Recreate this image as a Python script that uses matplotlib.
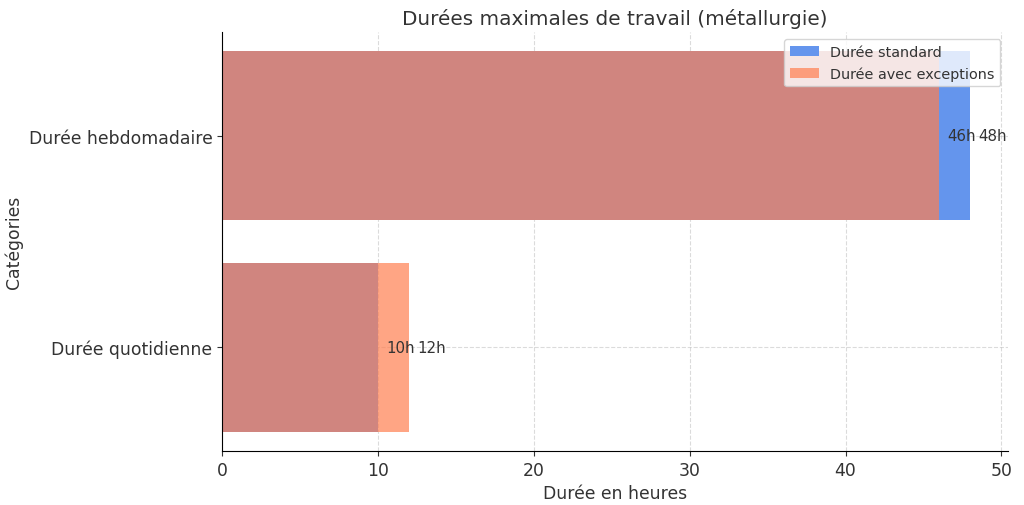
import matplotlib
matplotlib.use("Agg")
import numpy as np
import matplotlib.pyplot as plt

categories = ["Durée quotidienne", "Durée hebdomadaire"]
standard = [10, 48]
exceptions = [12, 46]
series_labels = ["Durée standard", "Durée avec exceptions"]

plt.rcParams['text.color'] = '#333333'
plt.rcParams['axes.labelcolor'] = '#333333'
plt.rcParams['xtick.color'] = '#333333'
plt.rcParams['ytick.color'] = '#333333'

fig = plt.figure(figsize=(10.24, 5.06), dpi=100)
ax = fig.add_axes([0.217, 0.107, 0.767, 0.828])

y = np.arange(len(categories))
bars_std = ax.barh(y, standard, height=0.8, color='cornflowerblue',
                   label=series_labels[0])
bars_exc = ax.barh(y, exceptions, height=0.8, color='coral', alpha=0.7,
                   label=series_labels[1])

for bars in (bars_std, bars_exc):
    for bar in bars:
        w = bar.get_width()
        ax.text(w + 0.5, bar.get_y() + bar.get_height() / 2, f"{w}h",
                va='center', ha='left', fontsize=10.8)

ax.set_yticks(y)
ax.set_yticklabels(categories, fontsize=12.4)
ax.tick_params(axis='x', labelsize=12.4)
ax.set_xlabel("Durée en heures", fontsize=12.4)
ax.set_ylabel("Catégories", fontsize=12.4)
ax.set_title("Durées maximales de travail (métallurgie)", fontsize=14.4)
ax.grid(True, linestyle='--', alpha=0.45, linewidth=0.8)
ax.set_axisbelow(True)
ax.spines['top'].set_visible(False)
ax.spines['right'].set_visible(False)
ax.legend(loc='upper right', fontsize=10.4)

fig.savefig("out.png", dpi=100)
